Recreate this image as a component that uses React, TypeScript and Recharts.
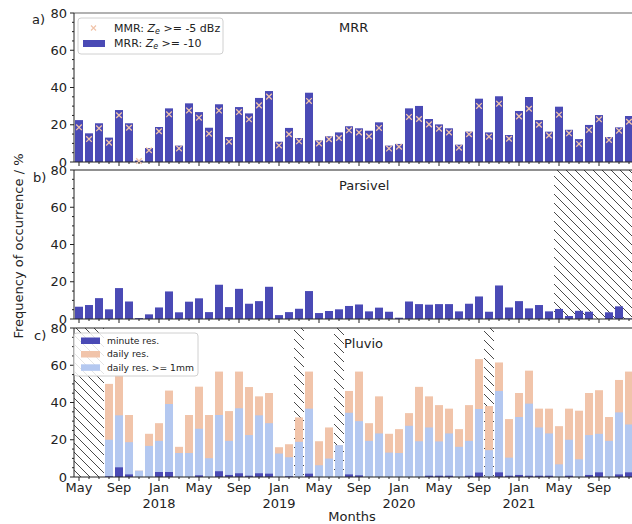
import React from "react";
import { ComposedChart, Bar, Line, XAxis, YAxis, ReferenceArea, ReferenceLine } from "recharts";

// months May 2017 .. Dec 2021
const months = [
  "2017-05", "2017-06", "2017-07", "2017-08", "2017-09", "2017-10", "2017-11", "2017-12",
  "2018-01", "2018-02", "2018-03", "2018-04", "2018-05", "2018-06", "2018-07", "2018-08", "2018-09", "2018-10", "2018-11", "2018-12",
  "2019-01", "2019-02", "2019-03", "2019-04", "2019-05", "2019-06", "2019-07", "2019-08", "2019-09", "2019-10", "2019-11", "2019-12",
  "2020-01", "2020-02", "2020-03", "2020-04", "2020-05", "2020-06", "2020-07", "2020-08", "2020-09", "2020-10", "2020-11", "2020-12",
  "2021-01", "2021-02", "2021-03", "2021-04", "2021-05", "2021-06", "2021-07", "2021-08", "2021-09", "2021-10", "2021-11", "2021-12",
];

const mrrZe10 = [
  22.5, 15.4, 20.8, 13.1, 27.9, 20.8, 0.8, 7.5, 18.8, 28.8,
  8.8, 31.5, 26.8, 18.4, 31.0, 13.4, 29.5, 26.1, 34.4, 38.1,
  10.9, 18.3, 12.9, 37.2, 11.6, 13.8, 15.9, 19.2, 18.1, 16.8,
  21.3, 8.8, 9.7, 28.8, 30.1, 23.1, 20.2, 18.1, 9.3, 16.3,
  34.0, 15.9, 35.3, 14.5, 27.4, 34.9, 22.5, 16.3, 29.7, 17.3,
  12.3, 19.9, 25.2, 13.4, 18.6, 24.7,
];

const mrrZe5 = [
  18.6, 12.3, 18.1, 10.4, 25.1, 18.4, 0.5, 6.3, 16.5, 25.6,
  7.3, 27.7, 23.8, 15.2, 27.6, 10.9, 26.8, 22.9, 30.4, 35.1,
  8.9, 14.9, 11.1, 32.8, 10.0, 12.2, 12.9, 17.0, 15.9, 13.8,
  18.3, 7.2, 8.2, 24.2, 23.1, 20.2, 17.9, 15.9, 7.7, 14.9,
  30.1, 13.6, 31.3, 12.5, 24.5, 28.6, 20.0, 14.3, 25.4, 15.4,
  9.7, 17.2, 22.9, 11.8, 16.8, 21.6,
];

const parsivel = [
  6.6, 7.5, 11.2, 5.2, 16.6, 9.4, 0.5, 2.5, 6.2, 14.8,
  3.6, 9.3, 11.1, 3.7, 18.4, 6.4, 16.2, 8.2, 9.6, 17.3,
  2.1, 3.7, 5.5, 15.0, 3.2, 4.3, 5.2, 7.0, 7.8, 4.1,
  6.1, 3.9, 0.7, 9.4, 8.0, 7.7, 8.0, 8.0, 4.1, 8.2,
  12.1, 3.9, 18.0, 6.2, 9.6, 5.7, 7.5, 4.1, 5.4, 1.6,
  4.4, 3.9, 0, 3.6, 6.8, 0.3,
];

const pluvioMinute = [
  null, null, null, 0.4, 5.2, 1.4, 0, 0, 2.7, 2.7,
  0, 0, 0.9, 0, 3.1, 1.1, 2.0, 0.7, 2.0, 1.8,
  0, 0.4, 0, 1.8, 0, 0, 0, 1.4, 0.9, 0,
  0, 0, 0, 0, 0, 0.7, 0.7, 0.7, 0, 0.7,
  2.4, 0, 2.5, 0.7, 1.1, 0.7, 0.7, 0.7, 0, 0.7,
  0, 1.1, 2.5, 0, 1.4, 2.5,
];

const pluvioDaily = [
  null, null, null, 50.0, 54.5, 33.3, 3.4, 23.2, 28.9, 46.4,
  16.2, 33.3, 48.5, 33.3, 56.6, 35.4, 56.6, 48.3, 43.3, 45.1,
  16.0, 17.6, 32.0, 56.6, 19.2, 26.6, 17.1, 46.2, 56.6, 28.9,
  43.3, 23.2, 25.7, 34.3, 48.4, 43.3, 38.6, 36.7, 25.7, 38.6,
  63.3, 38.1, 61.5, 31.1, 45.1, 57.1, 36.7, 36.7, 27.3, 36.7,
  35.6, 45.1, 46.6, 32.2, 52.1, 56.6,
];

const pluvioDaily1mm = [
  null, null, null, 20.0, 33.1, 18.7, 3.4, 16.7, 19.4, 39.2,
  12.9, 12.9, 25.9, 10.1, 33.3, 19.4, 36.9, 22.5, 33.1, 28.9,
  12.6, 10.6, 18.9, 36.7, 6.3, 9.9, 17.1, 34.5, 30.0, 19.4,
  23.4, 13.1, 12.9, 27.5, 19.2, 26.6, 19.1, 23.4, 16.2, 19.4,
  36.5, 14.4, 46.2, 10.4, 32.2, 39.4, 26.6, 23.4, 6.8, 20.0,
  9.5, 22.5, 23.2, 19.4, 34.7, 28.2,
];

const monthNames: Record<string, string> = { "01": "Jan", "05": "May", "09": "Sep" };
const yTicks = [0, 5, 10, 15, 20, 25, 30, 35, 40, 45, 50, 55, 60, 65, 70, 75, 80];

const BLUE = "#4a4ab5";
const PEACH = "#f1c4aa";
const LIGHTBLUE = "#b4c8f0";
const FONT = "DejaVu Sans, sans-serif";
const INK = "#222";

const rows = months.map((m, i) => ({
  m,
  mrr10: mrrZe10[i],
  mrr5: mrrZe5[i],
  pars: parsivel[i],
  minute: pluvioMinute[i],
  daily: pluvioDaily[i],
  daily1mm: pluvioDaily1mm[i],
}));

const YTick = (props: any) => {
  const { x, y, payload } = props;
  const major = payload.value % 20 === 0;
  return (
    <g>
      <line x1={x} x2={x - (major ? 4 : 2)} y1={y} y2={y} stroke={INK} strokeWidth={1} />
      {major && (
        <text x={x - 7} y={y} dy="0.36em" textAnchor="end" fontSize={13} fontFamily={FONT} fill={INK}>
          {payload.value}
        </text>
      )}
    </g>
  );
};

const makeXTick = (labels: boolean) => (props: any) => {
  const { x, y, payload } = props;
  const m: string = payload.value;
  const mm = m.slice(5);
  const name = monthNames[mm];
  return (
    <g>
      <line x1={x} x2={x} y1={y} y2={y + (name ? 4 : 2)} stroke={INK} strokeWidth={1} />
      {labels && name && (
        <text x={x} y={y + 15} textAnchor="middle" fontSize={13} fontFamily={FONT} fill={INK}>
          {name}
        </text>
      )}
      {labels && mm === "01" && (
        <text x={x} y={y + 31} textAnchor="middle" fontSize={13} fontFamily={FONT} fill={INK}>
          {m.slice(0, 4)}
        </text>
      )}
    </g>
  );
};

const Cross = (p: any) => {
  const { cx, cy, index } = p;
  if (cx == null || cy == null) return <g key={index} />;
  const s = 2.8;
  return (
    <path key={index} d={`M${cx - s},${cy - s}L${cx + s},${cy + s}M${cx - s},${cy + s}L${cx + s},${cy - s}`}
      stroke={PEACH} strokeWidth={1.3} fill="none" />
  );
};

const frame = (top: number, bottom: number, xh: number) => ({
  top,
  right: 6,
  left: 0,
  bottom: 524 - bottom - xh,
});

const axes = (labels: boolean, xh: number) => [
  <XAxis key="x" dataKey="m" interval={0} tickSize={0} tickMargin={0} tickLine={false} height={xh}
    tick={makeXTick(labels)} axisLine={{ stroke: INK }} />,
  <YAxis key="y" domain={[0, 80]} ticks={yTicks} interval={0} width={74} tickSize={0} tickMargin={0} tickLine={false}
    tick={YTick} axisLine={{ stroke: INK }} />,
];

const abs: React.CSSProperties = { position: "absolute", left: 0, top: 0 };

export default function App() {
  return (
    <div style={{ position: "absolute", left: 0, top: 0, width: 632, height: 524, overflow: "hidden", background: "#fff" }}>
      <svg width={0} height={0} style={{ position: "absolute" }}>
        <defs>
          <pattern id="hatch" patternUnits="userSpaceOnUse" width={9} height={9}>
            <path d="M0,0L9,9M-1,8L1,10M8,-1L10,1" stroke="#4a4a4a" strokeWidth={1} />
          </pattern>
        </defs>
      </svg>

      {/* a) MRR */}
      <div style={abs}>
        <ComposedChart width={640} height={524} data={rows} margin={frame(13, 162, 20)}>
          {axes(false, 20)}
          <Bar dataKey="mrr10" fill={BLUE} barSize={8} isAnimationActive={false} />
          <Line dataKey="mrr5" stroke="none" dot={Cross} activeDot={false} isAnimationActive={false} />
          <ReferenceLine y={80} stroke="#999" strokeWidth={1.5} />
        </ComposedChart>
      </div>

      {/* b) Parsivel */}
      <div style={abs}>
        <ComposedChart width={640} height={524} data={rows} margin={frame(170, 319, 20)}>
          {axes(false, 20)}
          <Bar dataKey="pars" fill={BLUE} barSize={8} isAnimationActive={false} />
          <ReferenceArea x1="2021-05" x2="2021-12" y1={0} y2={80} fill="url(#hatch)" fillOpacity={1} stroke="none" />
          <ReferenceLine y={80} stroke={INK} strokeWidth={1} />
        </ComposedChart>
      </div>

      {/* c) Pluvio */}
      <div style={abs}>
        <ComposedChart width={640} height={524} data={rows} margin={frame(328, 477, 40)} barGap={-8}>
          {axes(true, 40)}
          <Bar dataKey="daily" fill={PEACH} barSize={8} isAnimationActive={false} />
          <Bar dataKey="daily1mm" fill={LIGHTBLUE} barSize={8} isAnimationActive={false} />
          <Bar dataKey="minute" fill={BLUE} barSize={8} isAnimationActive={false} />
          <ReferenceArea x1="2017-05" x2="2017-07" y1={0} y2={80} fill="url(#hatch)" fillOpacity={1} stroke="none" />
          <ReferenceArea x1="2019-03" x2="2019-03" y1={0} y2={80} fill="url(#hatch)" fillOpacity={1} stroke="none" />
          <ReferenceArea x1="2019-07" x2="2019-07" y1={0} y2={80} fill="url(#hatch)" fillOpacity={1} stroke="none" />
          <ReferenceArea x1="2020-10" x2="2020-10" y1={0} y2={80} fill="url(#hatch)" fillOpacity={1} stroke="none" />
          <ReferenceLine y={80} stroke={INK} strokeWidth={1} />
        </ComposedChart>
      </div>

      {/* labels and legends */}
      <svg width={632} height={524} style={{ ...abs, pointerEvents: "none" }} fontFamily={FONT} fill={INK}>
        <text x={32} y={24} fontSize={13}>a)</text>
        <text x={33} y={182} fontSize={13}>b)</text>
        <text x={34} y={340} fontSize={13}>c)</text>
        <text x={339} y={32} fontSize={13}>MRR</text>
        <text x={339} y={190} fontSize={13}>Parsivel</text>
        <text x={344} y={348} fontSize={13}>Pluvio</text>
        <text x={23} y={246} fontSize={13} textAnchor="middle" transform="rotate(-90 23 246)">
          Frequency of occurrence / %
        </text>
        <text x={352} y={521} fontSize={13} textAnchor="middle">Months</text>

        <rect x={78} y={18} width={145} height={36} rx={3} fill="#fff" fillOpacity={0.85} stroke="#d0d0d0" />
        <path d="M91,25.5L96,30.5M91,30.5L96,25.5" stroke={PEACH} strokeWidth={1.2} fill="none" />
        <text x={114} y={32} fontSize={11}>
          MMR: <tspan fontStyle="italic">Z</tspan>
          <tspan fontStyle="italic" fontSize={8} dy={2}>e</tspan>
          <tspan dy={-2}> &gt;= -5 dBz</tspan>
        </text>
        <rect x={83} y={40} width={22} height={7} fill={BLUE} />
        <text x={114} y={47} fontSize={11}>
          MRR: <tspan fontStyle="italic">Z</tspan>
          <tspan fontStyle="italic" fontSize={8} dy={2}>e</tspan>
          <tspan dy={-2}> &gt;= -10</tspan>
        </text>

        <rect x={74} y={333} width={124} height={43} rx={3} fill="#fff" fillOpacity={0.85} stroke="#d0d0d0" />
        <rect x={81} y={337.5} width={19} height={6.5} fill={BLUE} />
        <text x={107} y={344} fontSize={9.2}>minute res.</text>
        <rect x={81} y={351} width={19} height={6.5} fill={PEACH} />
        <text x={107} y={357.4} fontSize={9.2}>daily res.</text>
        <rect x={81} y={364.3} width={19} height={6.5} fill={LIGHTBLUE} />
        <text x={107} y={370.7} fontSize={9.2}>daily res. &gt;= 1mm</text>
      </svg>
    </div>
  );
}
